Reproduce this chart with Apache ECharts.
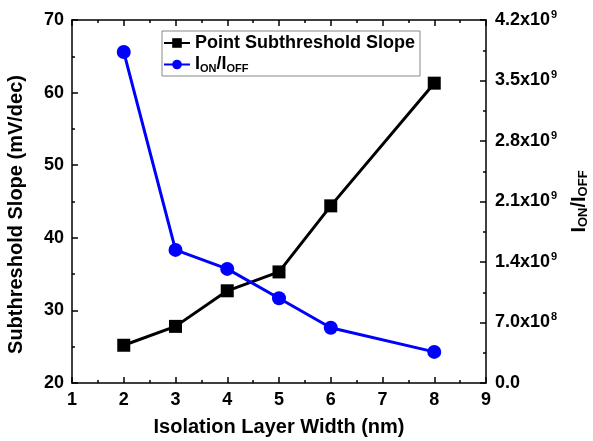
<!DOCTYPE html>
<html>
<head>
<meta charset="utf-8">
<script src="https://cdn.jsdelivr.net/npm/echarts@6/dist/echarts.min.js"></script>
<style>html,body{margin:0;padding:0;background:#fff}#c{width:593px;height:441px}</style>
</head>
<body>
<div id="c"></div>
<script>
var widths = [2, 3, 4, 5, 6, 8];
var slopeValues = [25.2, 27.8, 32.7, 35.3, 44.4, 61.3];
var ratioValues = [3.83e9, 1.54e9, 1.32e9, 0.98e9, 0.64e9, 0.36e9];
var xTicks = [1, 2, 3, 4, 5, 6, 7, 8, 9];
var seriesNames = ['Point Subthreshold Slope', 'ION/IOFF'];

var FONT = '"Liberation Sans", Arial, sans-serif';
var chart = echarts.init(document.getElementById('c'), null, {renderer: 'canvas'});

function ratioLabel(v) {
  if (v === 0) return '{m|0.0}';
  var e = Math.floor(Math.log10(v) + 1e-9);
  var m = v / Math.pow(10, e);
  return '{m|' + m.toFixed(1) + 'x10}{s|' + e + '}';
}

var axisLine = {show: true, lineStyle: {color: '#000', width: 1.5}};
var baseAxis = {
  axisLine: axisLine,
  axisTick: {show: true, inside: true, length: 6, lineStyle: {color: '#000', width: 1.5}},
  minorTick: {show: true, splitNumber: 2, length: 3, lineStyle: {color: '#000', width: 1.5}},
  splitLine: {show: false},
  nameTextStyle: {fontFamily: FONT, fontWeight: 'bold', fontSize: 20, color: '#000'}
};
function ax(o) { return Object.assign({}, JSON.parse(JSON.stringify(baseAxis)), o); }
function mkData(ys) { return widths.map(function (w, i) { return [w, ys[i]]; }); }

var option = {
  animation: false,
  backgroundColor: '#fff',
  grid: {left: 72, right: 107, top: 20, bottom: 58, containLabel: false, outerBoundsMode: 'none'},
  legend: {
    orient: 'vertical',
    left: 162, top: 31,
    borderColor: '#888', borderWidth: 1,
    padding: [3, 5, 2, 1],
    itemGap: 3,
    itemWidth: 26, itemHeight: 12,
    data: seriesNames,
    formatter: function (n) {
      if (n === 'ION/IOFF') return '{n|I}{b|ON}{n|/I}{b|OFF}';
      return '{n|' + n + '}';
    },
    textStyle: {
      fontFamily: FONT, fontWeight: 'bold', fontSize: 18, color: '#000',
      rich: {
        n: {fontFamily: FONT, fontWeight: 'bold', fontSize: 18, color: '#000', lineHeight: 20},
        b: {fontFamily: FONT, fontWeight: 'bold', fontSize: 11, color: '#000', padding: [8, 0, 0, 0], lineHeight: 20}
      }
    }
  },
  xAxis: [
    ax({
      type: 'value', min: 1, max: 9, interval: 1, position: 'bottom',
      name: 'Isolation Layer Width (nm)', nameLocation: 'middle', nameGap: 34,
      axisLabel: {fontFamily: FONT, fontWeight: 'bold', fontSize: 18, color: '#000', margin: 8,
        formatter: function (v) { return xTicks.indexOf(v) >= 0 ? String(v) : ''; }}
    }),
    ax({
      type: 'value', min: 1, max: 9, interval: 1, position: 'top',
      axisLabel: {show: false}
    })
  ],
  yAxis: [
    ax({
      type: 'value', min: 20, max: 70, interval: 10, position: 'left',
      name: 'Subthreshold Slope (mV/dec)', nameLocation: 'middle', nameGap: 46,
      nameTextStyle: {fontFamily: FONT, fontWeight: 'bold', fontSize: 20, color: '#000', padding: [0, 26, 0, 0]},
      axisLabel: {fontFamily: FONT, fontWeight: 'bold', fontSize: 18, color: '#000', margin: 8}
    }),
    ax({
      type: 'value', min: 0, max: 4.2e9, interval: 0.7e9, position: 'right',
      name: '{n|I}{b|ON}{n|/I}{b|OFF}', nameLocation: 'middle', nameGap: 82, nameRotate: 90,
      nameTextStyle: {
        fontFamily: FONT, fontWeight: 'bold', fontSize: 20, color: '#000',
        rich: {
          n: {fontFamily: FONT, fontWeight: 'bold', fontSize: 20, color: '#000', lineHeight: 22},
          b: {fontFamily: FONT, fontWeight: 'bold', fontSize: 13, color: '#000', padding: [9, 0, 0, 0], lineHeight: 22}
        }
      },
      axisLabel: {
        margin: 9, color: '#000',
        formatter: ratioLabel,
        rich: {
          m: {fontFamily: FONT, fontWeight: 'bold', fontSize: 18, color: '#000'},
          s: {fontFamily: FONT, fontWeight: 'bold', fontSize: 11, color: '#000', padding: [0, 0, 11, 1]}
        }
      }
    })
  ],
  series: [
    {
      name: seriesNames[0], type: 'line', xAxisIndex: 0, yAxisIndex: 0,
      data: mkData(slopeValues),
      symbol: 'rect', symbolSize: 13,
      itemStyle: {color: '#000'},
      lineStyle: {color: '#000', width: 3}
    },
    {
      name: seriesNames[1], type: 'line', xAxisIndex: 0, yAxisIndex: 1,
      data: mkData(ratioValues),
      symbol: 'circle', symbolSize: 14,
      itemStyle: {color: '#0000ff'},
      lineStyle: {color: '#0000ff', width: 3}
    }
  ]
};
chart.setOption(option);
</script>
</body>
</html>
